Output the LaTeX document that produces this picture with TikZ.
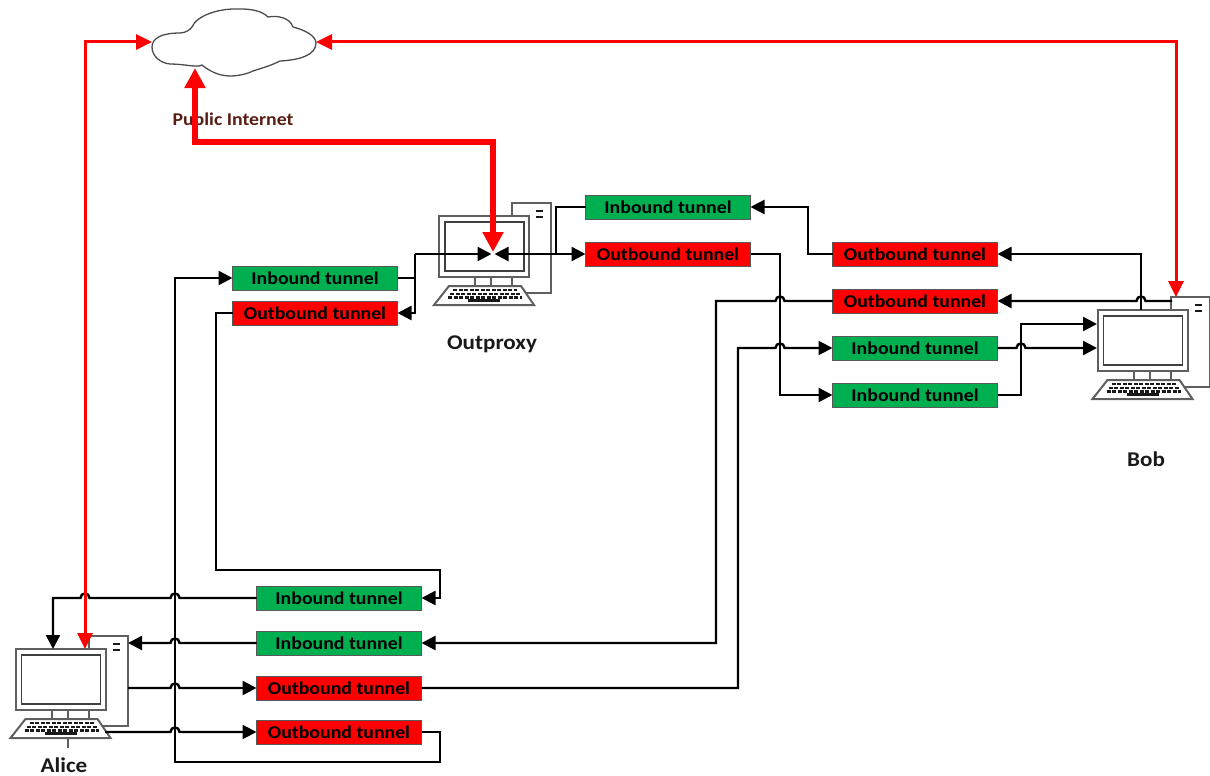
\documentclass[tikz,border=0pt]{standalone}
\usepackage{fontspec}
\setmainfont[FakeStretch=1.1]{Carlito}
\usepackage{xcolor}
\usetikzlibrary{arrows.meta,positioning,calc}
\definecolor{tunred}{HTML}{FF0000}
\definecolor{tungreen}{HTML}{00B050}
\definecolor{pcgray}{HTML}{5F5F5F}
\definecolor{netbrown}{HTML}{5A1E14}
\newcommand{\hopright}{.. controls +(0,-6) and +(0,-6) .. ++(9,0)}
\newcommand{\hopleft}{.. controls +(0,-6) and +(0,-6) .. ++(-9,0)}
\tikzset{
  link/.style={-{Triangle[length=14pt,width=14pt]}, line width=2.4pt, draw=black},
  plainlink/.style={line width=2.4pt, draw=black},
  bothlink/.style={{Triangle[length=14pt,width=14pt]}-{Triangle[length=14pt,width=14pt]}, line width=2.4pt, draw=black},
  netlink/.style={{Triangle[length=16pt,width=15pt]}-{Triangle[length=16pt,width=15pt]}, line width=3pt, draw=tunred},
  exitlink/.style={{Triangle[length=20pt,width=20pt]}-{Triangle[length=20pt,width=20pt]}, line width=5.5pt, draw=tunred},
  tunnel/.style={draw=black!65, line width=1pt, minimum width=165pt, minimum height=24pt,
    inner sep=0pt, outer sep=0pt, font=\fontsize{18}{20}\selectfont\bfseries, text=black},
  inbound/.style={tunnel, fill=tungreen},
  outbound/.style={tunnel, fill=tunred},
  hostname/.style={font=\fontsize{21}{24}\selectfont\bfseries, text=black!90, inner sep=0pt},
  pcline/.style={draw=pcgray, line width=2pt},
  computer/.pic={
    \node[pcline, fill=white, anchor=north west, minimum width=39pt, minimum height=90pt, inner sep=0pt, outer sep=0pt] (-tower) at (73,-13) {};
    \draw[line width=2.5pt, black!90] (97,-5) -- (104,-5) (97,1) -- (104,1);
    \draw[pcline] (36,61) -- (36,70) (52,61) -- (52,70) (73,61) -- (73,70);
    \node[pcline, fill=white, anchor=north west, minimum width=90pt, minimum height=61pt, inner sep=0pt, outer sep=0pt] (-screen) at (0,0) {};
    \draw[draw=black!75, line width=1.6pt] (6,6) rectangle (85,55);
    \draw[pcline, fill=white] (10,70) -- (82,70) -- (95,89) -- (-5,89) -- cycle;
    \draw[line width=2.4pt, black!90, dash pattern=on 4pt off 1.5pt] (14,74) -- (78,74);
    \draw[line width=2.4pt, black!90, dash pattern=on 4pt off 1.5pt] (11,78) -- (81,78);
    \draw[line width=2.4pt, black!90, dash pattern=on 4pt off 1.5pt] (9,81.5) -- (83,81.5);
    \draw[line width=2.4pt, black!90] (29,84.5) -- (61,84.5);
  }
}

\begin{document}
\begin{tikzpicture}[x=1pt, y=-1pt, node distance=23pt]
  \useasboundingbox (0,0) rectangle (1210,776);

  % hosts
  \pic (alice) at (15.5,649) {computer};
  \pic (proxy) at (439,216) {computer};
  \pic (bob) at (1097.5,310) {computer};

  % cloud
  \draw[draw=black!70, line width=1.3pt, fill=white] (152,47)
    .. controls (152,38) and (162,33) .. (180,33)
    .. controls (185,33) and (190,30) .. (192,27)
    .. controls (197,15) and (220,8) .. (240,9)
    .. controls (252,9) and (262,11) .. (268,17)
    .. controls (278,15) and (290,18) .. (293,27)
    .. controls (305,30) and (316,36) .. (316,43)
    .. controls (316,55) and (300,60) .. (280,61)
    .. controls (270,66) and (262,68) .. (253,71)
    .. controls (245,75) and (235,76) .. (230,76)
    .. controls (218,76) and (208,70) .. (202,65)
    .. controls (197,68) and (185,64) .. (170,64)
    .. controls (160,63) and (152,56) .. cycle;
  \coordinate (cloudw) at (152,42);
  \coordinate (cloude) at (316,42);
  \coordinate (clouds) at (195,68);

  % tunnels
  \node[inbound] (pin) at (668,207) {Inbound tunnel};
  \node[outbound, below=of pin] (pout) {Outbound tunnel};
  \node[outbound] (bouta) at (915,254) {Outbound tunnel};
  \node[outbound, below=of bouta] (boutb) {Outbound tunnel};
  \node[inbound, below=of boutb] (bina) {Inbound tunnel};
  \node[inbound, below=of bina] (binb) {Inbound tunnel};
  \node[inbound] (lin) at (315,278) {Inbound tunnel};
  \node[outbound, below=11pt of lin] (lout) {Outbound tunnel};
  \node[inbound] (aina) at (339,598) {Inbound tunnel};
  \node[inbound, below=21pt of aina] (ainb) {Inbound tunnel};
  \node[outbound, below=21pt of ainb] (aouta) {Outbound tunnel};
  \node[outbound, below=20pt of aouta] (aoutb) {Outbound tunnel};

  % labels
  \node[hostname, text=netbrown, font=\fontsize{18}{20}\selectfont\bfseries] (netname) at (233,119) {Public Internet};
  \node[hostname] (proxyname) at (492,344.5) {Outproxy};
  \node[hostname] (bobname) at (1146,459) {Bob};
  \node[hostname] (alicename) at (64,765) {Alice};
  \draw[pcgray, line width=1.2pt] (68,739) -- (68,748);

  % ports
  \coordinate (proxyl) at (491.5,254);
  \coordinate (proxyr) at (494.5,254);
  \coordinate (proxyt) at (493,252);
  \coordinate (bobtop) at (1141,310);
  \coordinate (bobtw) at (1172,301);
  \coordinate (bobred) at (1176,297);
  \coordinate (bobup) at (1097,324);
  \coordinate (bobmid) at (1097,348);
  \coordinate (alicel) at (53,649);
  \coordinate (alicered) at (85,649);
  \coordinate (aliceta) at (128,643);
  \coordinate (alicetb) at (128,688);
  \coordinate (alicekb) at (105,732);

  % black links
  \draw[plainlink] (lin.east) -- (415,278);
  \draw[link] (415,254) |- (lout.east);
  \draw[link] (415,254) -- (proxyl);
  \draw[bothlink] (proxyr) -- (pout.west);
  \draw[plainlink] (556,254) |- (pin.west);
  \draw[link] (bouta.west) -| (808,207) -- (pin.east);
  \draw[link] (bobtop) |- (bouta.east);
  \draw[link] (bobtw) -- (1145.5,301) \hopleft -- (boutb.east);
  \draw[link] (pout.east) -- (780,254) |- (binb.west);
  \draw[link] (boutb.west) -- (784.5,301) \hopleft -- (716,301) |- (ainb.east);
  \draw[link] (aouta.east) -- (738,688) |- (775.5,348) \hopright -- (bina.west);
  \draw[link] (bina.east) -- (1016.5,348) \hopright -- (bobmid);
  \draw[link] (binb.east) -- (1021,395) |- (bobup);
  \draw[link] (aina.west) -- (179.5,598) \hopleft -- (89.5,598) \hopleft -- (53,598) -- (alicel);
  \draw[link] (ainb.west) -- (179.5,643) \hopleft -- (aliceta);
  \draw[link] (alicetb) -- (170.5,688) \hopright -- (aouta.west);
  \draw[link] (alicekb) -- (170.5,732) \hopright -- (aoutb.west);
  \draw[link] (aoutb.east) -- (440,732) -- (440,762) -- (175,762) |- (lin.west);
  \draw[link] (lout.west) -- (216,313) |- (440,570) -- (440,598) -- (aina.east);

  % red links
  \draw[netlink] (alicered) |- (cloudw);
  \draw[netlink] (cloude) -| (bobred);
  \draw[exitlink] (clouds) |- (493,142) -- (proxyt);
\end{tikzpicture}
\end{document}
